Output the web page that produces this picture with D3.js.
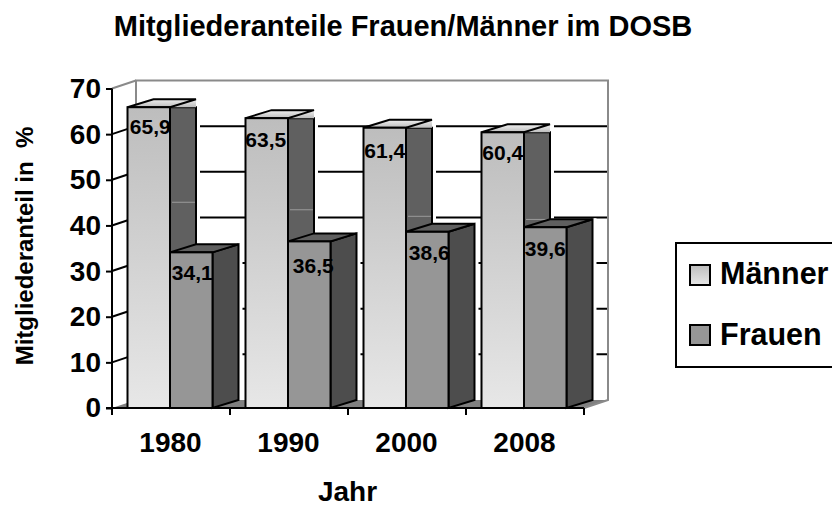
<!DOCTYPE html>
<html><head><meta charset="utf-8">
<style>html,body{margin:0;background:#fff;overflow:hidden}svg{display:block}text{font-family:"Liberation Sans",Arial,sans-serif;font-weight:bold;fill:#000}</style>
<script src="https://cdn.jsdelivr.net/npm/d3@7"></script></head><body>
<script>
const categories = ["1980","1990","2000","2008"];
const maenner = [65.9,63.5,61.4,60.4];
const frauen = [34.1,36.5,38.6,39.6];
const yTicks = [0,10,20,30,40,50,60,70];
const seriesNames = ["Männer","Frauen"];
const fmt = v => String(v).replace(".",",");

const W=832,H=507, DX=24, DY=8, BDX=26;
const labelNudge=[[[1.5,27],[-1,29],[0,30],[0,28]],[[1,28],[4,32],[2,28],[0,29]]];
const svg=d3.select("body").append("svg").attr("width",W).attr("height",H);
const x=d3.scaleBand().domain(categories).range([112,584]);
const y=d3.scaleLinear().domain([0,70]).range([408,88.5]);
const inner=d3.scaleBand().domain([0,1]).range([15.5,100.5]);
const defs=svg.append("defs");
const g=defs.append("linearGradient").attr("id","mg").attr("x1",0).attr("y1",0).attr("x2",0).attr("y2",1);
g.append("stop").attr("offset",0).attr("stop-color","#bdbdbd");
g.append("stop").attr("offset",1).attr("stop-color","#e7e7e7");
const gt=defs.append("linearGradient").attr("id","mt").attr("x1",0).attr("y1",0).attr("x2",0).attr("y2",1);
gt.append("stop").attr("offset",0).attr("stop-color","#f0f0f0");
gt.append("stop").attr("offset",1).attr("stop-color","#bdbdbd");
const poly=p=>p.map(q=>q.join(",")).join(" ");
const x0=x.range()[0],x1=x.range()[1],yb=y(0),yt=y(70);

// floor
svg.append("polygon").attr("points",poly([[x0,yb],[x0+DX,yb-DY],[x1+DX,yb-DY],[x1,yb]])).attr("fill","#808080");
// back wall frame
svg.append("path").attr("d",`M${x0+DX},${yb-DY}V${yt-DY}H${x1+DX}V${yb-DY}L${x1},${yb}`).attr("fill","none").attr("stroke","#8a8a8a").attr("stroke-width",2);
svg.append("line").attr("x1",x0).attr("y1",yt).attr("x2",x0+DX).attr("y2",yt-DY).attr("stroke","#8a8a8a").attr("stroke-width",2);
// gridlines and left-wall slants
const grid=yTicks.filter(t=>t>0&&t<70);
svg.selectAll(".gl").data(grid).join("line").attr("x1",x0+DX).attr("x2",x1+DX-1).attr("y1",d=>y(d)-DY).attr("y2",d=>y(d)-DY).attr("stroke","#000").attr("stroke-width",2);
svg.selectAll(".sl").data(grid).join("line").attr("x1",x0).attr("x2",x0+DX).attr("y1",d=>y(d)).attr("y2",d=>y(d)-DY).attr("stroke","#000").attr("stroke-width",2);

function halo(cat,v,idx){
  const r=x(cat)+inner(idx)+inner.bandwidth()+BDX;
  svg.append("line").attr("x1",r+2).attr("x2",r+2).attr("y1",y(v)-DY-1).attr("y2",y(0)-DY).attr("stroke","#fff").attr("stroke-width",4);
}
function bar(cat,v,idx){
  const l=x(cat)+inner(idx), w=inner.bandwidth(), r=l+w, t=y(v), b=y(0);
  const G=svg.append("g").attr("stroke","#000").attr("stroke-width",2);
  if(idx){
    G.append("polygon").attr("points",poly([[r,t],[r+BDX,t-DY],[r+BDX,b-DY],[r,b]])).attr("fill","#4d4d4d");
    G.append("polygon").attr("points",poly([[l,t],[l+BDX,t-DY],[r+BDX,t-DY],[r,t]])).attr("fill","#5f5f5f");
  } else {
    G.append("polygon").attr("points",poly([[r,t],[r+BDX,t],[r+BDX,b-DY],[r,b]])).attr("fill","#606060");
    G.append("polygon").attr("points",poly([[r,t],[r+BDX,t-DY],[r+BDX,t]])).attr("fill","url(#mt)").attr("stroke","none");
    G.append("polygon").attr("points",poly([[l,t],[l+BDX,t-DY],[r+BDX,t-DY],[r,t]])).attr("fill","url(#mt)");
    const fy=t+(b-t)*0.316;
    svg.append("line").attr("x1",r+2).attr("x2",r+BDX-1).attr("y1",fy).attr("y2",fy).attr("stroke","#9a9a9a").attr("stroke-width",1);
  }
  G.append("rect").attr("x",l).attr("y",t).attr("width",w).attr("height",b-t).attr("fill",idx?"#969696":"url(#mg)");
}
categories.forEach((c,i)=>{halo(c,maenner[i],0);halo(c,frauen[i],1);});
categories.forEach((c,i)=>bar(c,maenner[i],0));
categories.forEach((c,i)=>bar(c,frauen[i],1));

// axes
const ax=svg.append("g").attr("transform",`translate(${x0},0)`).call(d3.axisLeft(y).tickValues(yTicks).tickSize(6).tickPadding(5).tickFormat(d3.format("d")));
ax.selectAll("line,path").attr("stroke","#000").attr("stroke-width",2);
ax.select(".domain").attr("d",`M0,${yt}V${yb}`);
ax.selectAll("text").style("font-size","28px").attr("fill","#000");
const ticks=x.domain().map(c=>x(c)).concat(x1);
const ab=svg.append("g");
ab.append("line").attr("x1",x0-6).attr("x2",x1).attr("y1",yb).attr("y2",yb).attr("stroke","#000").attr("stroke-width",2);
ab.selectAll(".t").data(ticks).join("line").attr("x1",d=>d).attr("x2",d=>d).attr("y1",yb).attr("y2",yb+7).attr("stroke","#000").attr("stroke-width",2);
svg.selectAll(".cl").data(categories).join("text").attr("x",c=>x(c)+x.bandwidth()/2-0.5).attr("y",452).attr("text-anchor","middle").style("font-size","28px").text(c=>c);

// value labels
const lab=(c,v,idx,i)=>svg.append("text").attr("x",x(c)+inner(idx)+inner.bandwidth()/2+labelNudge[idx][i][0]).attr("y",y(v)+labelNudge[idx][i][1]).attr("text-anchor","middle").style("font-size","21px").text(fmt(v));
categories.forEach((c,i)=>{lab(c,maenner[i],0,i);lab(c,frauen[i],1,i);});

// titles
svg.append("text").attr("x",403).attr("y",36).attr("text-anchor","middle").style("font-size","29px").text("Mitgliederanteile Frauen/Männer im DOSB");
svg.append("text").attr("x",347.5).attr("y",500.5).attr("text-anchor","middle").style("font-size","28px").text("Jahr");
svg.append("text").attr("transform","translate(32.5,246) rotate(-90)").attr("text-anchor","middle").style("white-space","pre").style("font-size","24px").text("Mitgliederanteil in  %");

// legend
svg.append("rect").attr("x",676).attr("y",243).attr("width",170).attr("height",124).attr("fill","#fff").attr("stroke","#000").attr("stroke-width",2);
const lg=[["url(#mg)",265,284],["#969696",325,345]];
seriesNames.forEach((n,i)=>{
  svg.append("rect").attr("x",690).attr("y",lg[i][1]).attr("width",20).attr("height",20).attr("fill",lg[i][0]).attr("stroke","#000").attr("stroke-width",2);
  svg.append("text").attr("x",720).attr("y",lg[i][2]).style("font-size","30.5px").text(n);
});
</script></body></html>
